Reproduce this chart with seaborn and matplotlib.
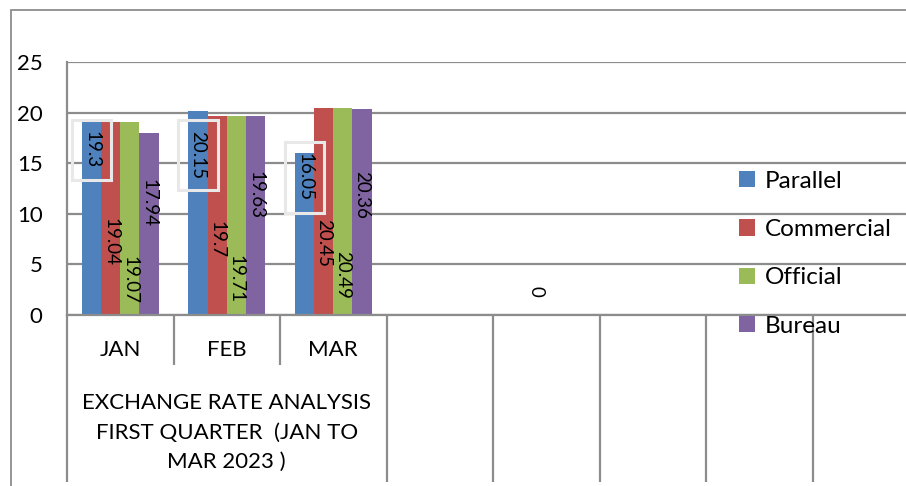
import matplotlib
matplotlib.use('Agg')
import matplotlib.pyplot as plt
import matplotlib.transforms as mtransforms
from matplotlib.patches import Rectangle
import pandas as pd
import seaborn as sns

# data
months = ['JAN', 'FEB', 'MAR']
empty_slots = ['s4', 's5', 's6', 's7', 's8']
series = ['Parallel', 'Commercial', 'Official', 'Bureau']
parallel = [19.3, 20.15, 16.05]
commercial = [19.04, 19.7, 20.45]
official = [19.07, 19.71, 20.49]
bureau = [17.94, 19.63, 20.36]
group_label = 'EXCHANGE RATE ANALYSIS\nFIRST QUARTER  (JAN TO\nMAR 2023 )'

# where Excel left each data label (centre, in value units)
label_y = {
    'Parallel': [16.3, 15.8, 13.6],
    'Commercial': [7.26, 7.46, 7.16],
    'Official': [3.5, 3.56, 3.95],
    'Bureau': [11.07, 11.86, 11.86],
}

colors = ['#4F81BD', '#C0504D', '#9BBB59', '#8064A2']
grid_col = '#8c8c8c'

rows = []
for name, vals in zip(series, [parallel, commercial, official, bureau]):
    for m, v in zip(months, vals):
        rows.append({'Month': m, 'Series': name, 'Rate': v})
df = pd.DataFrame(rows)

sns.set_style('white')
plt.rcParams['font.family'] = ['Lato', 'DejaVu Sans']
plt.rcParams['text.color'] = 'black'
plt.rcParams['xtick.color'] = 'black'
plt.rcParams['ytick.color'] = 'black'

fig = plt.figure(figsize=(9.06, 4.86), dpi=100)
W, H = 906, 486
ax = fig.add_axes([67 / W, 1 - 315 / H, 852 / W, 253 / H])

sns.barplot(data=df, x='Month', y='Rate', hue='Series', order=months + empty_slots,
            hue_order=series, palette=colors, width=0.72, saturation=1,
            edgecolor='none', ax=ax)

ax.set_ylim(0, 25)
ax.set_xlim(-0.5, 7.5)
ax.set_yticks(range(0, 26, 5))
ax.yaxis.grid(True, color=grid_col, linewidth=1.6)
ax.set_axisbelow(True)
for s in ['top', 'right']:
    ax.spines[s].set_visible(False)
ax.spines['left'].set_color(grid_col)
ax.spines['left'].set_linewidth(1.6)
ax.spines['bottom'].set_color(grid_col)
ax.spines['bottom'].set_linewidth(1.6)
ax.tick_params(axis='y', length=6.5, width=1.6, color=grid_col, labelcolor='black',
               pad=11, labelsize=16)
ax.set_xticks(range(3))
ax.set_xticklabels(months)
ax.tick_params(axis='x', length=0, pad=18, labelsize=16, labelcolor='black')
ax.set_xlabel('')
ax.set_ylabel('')

# category separators under the axis
trans = mtransforms.blended_transform_factory(ax.transData, ax.transAxes)
ax.vlines([0.5, 1.5], -0.198, 0, color=grid_col, lw=1.6, transform=trans, clip_on=False)
ax.vlines([-0.5, 2.5, 3.5, 4.5, 5.5, 6.5, 7.5], -0.66, 0, color=grid_col, lw=1.6,
          transform=trans, clip_on=False)
ax.text(1, -0.465, group_label, transform=trans, ha='center', va='center',
        fontsize=16, linespacing=1.6, color='black')

# data labels
for cont, name in zip(ax.containers, series):
    bars = [b for b in cont if b.get_height() > 0]
    for b, yv in zip(bars, label_y[name]):
        txt = f'{b.get_height():g}'
        kw = {}
        if name == 'Parallel':
            kw['bbox'] = dict(boxstyle='square,pad=0.6', fc='none', ec='#e8e8e8', lw=2.2)
        ax.text(b.get_x() + b.get_width() / 2, yv, txt, rotation=-90,
                ha='center', va='center', fontsize=13.5, color='black', **kw)
ax.text(3.9, 2.3, '0', rotation=-90, ha='center', va='center', fontsize=13.5, color='black')

# legend
handles, labels = ax.get_legend_handles_labels()
ax.get_legend().remove()
fig.legend(handles, labels, loc='upper left', bbox_to_anchor=(717 / W, 1 - 149 / H),
           frameon=False, fontsize=17.5, handlelength=0.65, handleheight=0.65,
           handletextpad=0.4, labelspacing=1.12)

# outer chart border
fig.add_artist(Rectangle((11 / W, -0.1), 1.2, 1.1 - 10 / H, transform=fig.transFigure,
                         fill=False, ec=grid_col, lw=1.3))

fig.savefig('out.png', dpi=100)
